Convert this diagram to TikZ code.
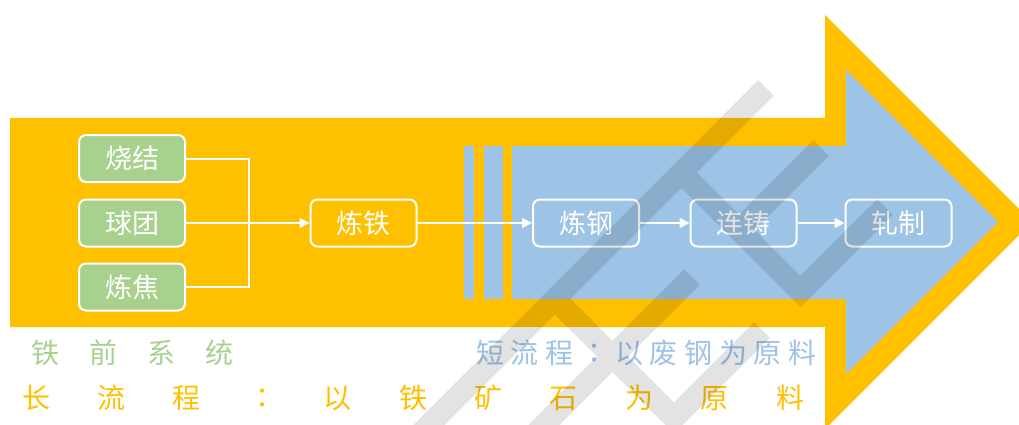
\documentclass[tikz,border=0pt]{standalone}
\usepackage{fontspec}
\newfontfamily\cjk{Noto Sans CJK SC}
\newfontfamily\cjktc{Noto Sans CJK TC}
\usetikzlibrary{arrows.meta}
\definecolor{yel}{HTML}{FFC000}
\definecolor{blu}{HTML}{9DC3E6}
\definecolor{grn}{HTML}{A9D18E}
\begin{document}
\begin{tikzpicture}[x=1pt,y=-1pt,
  box/.style={draw=white, line width=2pt, rounded corners=7pt, minimum width=106pt, minimum height=47pt, inner sep=0pt, text=white, font=\cjk\fontsize{27}{32}\selectfont},
  conn/.style={white, line width=2pt},
  arr/.style={conn, -{Triangle[length=10pt,width=10pt]}},
  lbl/.style={anchor=west, inner sep=0pt, font=\cjk\fontsize{28}{34}\selectfont},
  wm/.style={line width=22pt, black}
]
\useasboundingbox (0,0) rectangle (1019,425);
% big yellow arrow
\fill[yel] (10,118) -- (825,118) -- (825,15) -- (1032,222) -- (825,429) -- (825,327) -- (10,327) -- cycle;
% blue arrow and strips
\fill[blu] (512,146) -- (846,146) -- (846,70) -- (998,222) -- (846,374) -- (846,299) -- (512,299) -- cycle;
\fill[blu] (464,146) rectangle (474,299);
\fill[blu] (484,146) rectangle (503,299);
% boxes
\node[box, fill=grn] (sj) at (132,158.5) {烧结};
\node[box, fill=grn] (qt) at (132,223) {球团};
\node[box, fill=grn] (lj) at (132,287) {炼焦};
\node[box] (lt) at (363.5,223) {炼铁};
\node[box] (lg) at (586,223) {炼钢};
\node[box] (lz) at (743.5,223) {连铸};
\node[box] (zz) at (898.5,223) {轧制};
\coordinate (jx) at (249,223);
% connectors
\draw[conn] (sj.east) -| (jx) |- (lj.east);
\draw[arr] (qt.east) -- (lt.west);
\draw[arr] (lt.east) -- (lg.west);
\draw[arr] (lg.east) -- (lz.west);
\draw[arr] (lz.east) -- (zz.west);
% labels
\node[lbl, text=grn] (tq) at (31,353) {铁\hspace{30pt}前\hspace{30pt}系\hspace{30pt}统};
\node[lbl, text=blu] (dl) at (476,352.5) {短\hspace{6.7pt}流\hspace{6.7pt}程\hspace{6.7pt}{\cjktc ：}\hspace{6.7pt}以\hspace{6.7pt}废\hspace{6.7pt}钢\hspace{6.7pt}为\hspace{6.7pt}原\hspace{6.7pt}料};
\node[lbl, text=yel] (cl) at (22,397.5) {长\hspace{47.4pt}流\hspace{47.4pt}程\hspace{47.4pt}{\cjktc ：}\hspace{47.4pt}以\hspace{47.4pt}铁\hspace{47.4pt}矿\hspace{47.4pt}石\hspace{47.4pt}为\hspace{47.4pt}原\hspace{47.4pt}料};
% watermark
\begin{scope}[transparency group, opacity=0.11]
\draw[wm] (414,440) -- (766,88);
\draw[wm, miter limit=10] (555,299) -- (674,418) -- (762,330);
\draw[wm, miter limit=10] (681.5,172.5) -- (800.5,291.5) -- (885,207);
\draw[wm] (739,230) -- (821,148);
\draw[wm] (529,440) -- (692,277);
\end{scope}
\end{tikzpicture}
\end{document}
